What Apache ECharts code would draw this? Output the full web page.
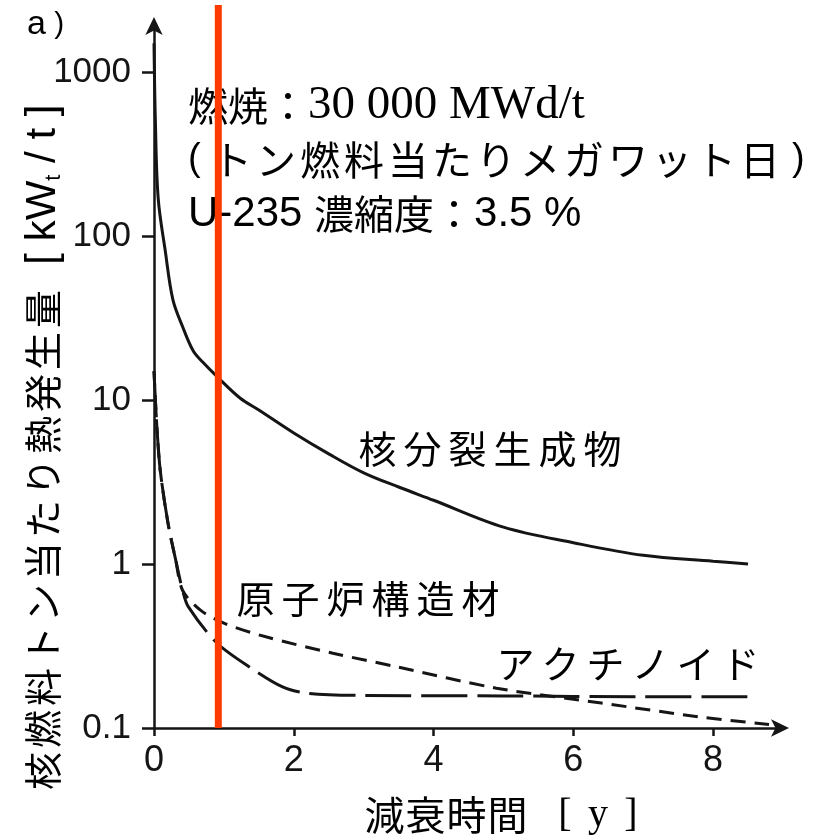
<!DOCTYPE html>
<html>
<head>
<meta charset="utf-8">
<script src="https://cdn.jsdelivr.net/npm/echarts@6/dist/echarts.min.js"></script>
<style>
html,body{margin:0;padding:0;background:#fff;}
#c{width:839px;height:838px;}
</style>
</head>
<body>
<div id="c"></div>
<script>
// ---- data ----
const fissionX = [0, 0.02, 0.06, 0.16, 0.27, 0.41, 0.56, 0.7, 0.91, 1.23, 1.5, 2.0, 2.5, 3.0, 3.5, 4.0, 5.0, 6.0, 7.0, 8.0, 8.5];
const fissionY = [1500, 500, 170, 82, 41, 28, 20, 17, 13.8, 10.3, 8.7, 6.3, 4.7, 3.6, 2.95, 2.45, 1.68, 1.35, 1.13, 1.04, 1.0];

const structX = [0, 0.04, 0.09, 0.2, 0.31, 0.41, 0.66, 1.0, 1.6, 2.56, 3.5, 4.9, 6.4, 7.8, 8.8];
const structY = [15, 7, 3.7, 1.78, 1.06, 0.69, 0.525, 0.436, 0.36, 0.286, 0.235, 0.175, 0.142, 0.117, 0.105];

const actX = [0, 0.04, 0.09, 0.2, 0.31, 0.41, 0.49, 0.9, 1.37, 1.84, 2.19, 3.0, 5.0, 7.0, 8.6];
const actY = [15, 7, 3.7, 1.78, 1.06, 0.69, 0.55, 0.33, 0.235, 0.178, 0.163, 0.158, 0.157, 0.155, 0.155];

const xTicks = [0, 2, 4, 6, 8];
const yTicks = [0.1, 1, 10, 100, 1000];
const yTickLabels = ['0.1', '1', '10', '100', '1000'];
const markerX = 0.92;   // red vertical marker

const seriesNames = ['核分裂生成物', '原子炉構造材', 'アクチノイド'];

function zip(xs, ys){ return xs.map((x, i) => [x, ys[i]]); }

const CJK = '"Noto Sans CJK JP", "Noto Sans CJK SC", sans-serif';
const SANS = '"Liberation Sans", Arial, sans-serif';
const SERIF = '"Liberation Serif", "DejaVu Serif", serif';
const INK = '#151515';

function spaced(str, key){
  return str.split('').map(c => '{' + key + '|' + c + '}').join('');
}

const chart = echarts.init(document.getElementById('c'), null, {renderer: 'canvas'});

const option = {
  animation: false,
  backgroundColor: '#ffffff',
  grid: {left: 154, right: 56, top: 23, bottom: 110, containLabel: false},
  xAxis: {
    type: 'value', min: 0, max: 9,
    axisLine: {show: true, onZero: false, lineStyle: {color: INK, width: 2.5},
      symbol: ['none', 'arrow'], symbolSize: [13, 18], symbolOffset: [0, 6]},
    axisTick: {show: true, length: 8, lineStyle: {color: INK, width: 2.5}, customValues: xTicks},
    axisLabel: {show: true, customValues: xTicks, margin: 15, fontSize: 36, fontFamily: SANS, color: INK},
    splitLine: {show: false}
  },
  yAxis: {
    type: 'log', logBase: 10, min: 0.1, max: Math.pow(10, 3.3),
    axisLine: {show: true, lineStyle: {color: INK, width: 2.5},
      symbol: ['none', 'arrow'], symbolSize: [13, 18], symbolOffset: [0, 6]},
    axisTick: {show: true, length: 12, lineStyle: {color: INK, width: 2.5}, customValues: yTicks},
    axisLabel: {show: true, customValues: yTicks, margin: 23, fontSize: 35, fontFamily: SANS, color: INK,
      formatter: v => { const i = yTicks.findIndex(t => Math.abs(t - v) / t < 1e-6); return i >= 0 ? yTickLabels[i] : ''; }},
    splitLine: {show: false}
  },
  series: [
    {name: seriesNames[0], type: 'line', data: zip(fissionX, fissionY), smooth: 0.35, symbol: 'none',
      lineStyle: {color: INK, width: 3}},
    {name: seriesNames[1], type: 'line', data: zip(structX, structY), smooth: 0.3, symbol: 'none',
      lineStyle: {color: INK, width: 3, type: [15, 9]}},
    {name: seriesNames[2], type: 'line', data: zip(actX, actY), smooth: 0.3, symbol: 'none',
      lineStyle: {color: INK, width: 3, type: [46, 10]}}
  ]
};
chart.setOption(option);

const mx = chart.convertToPixel({xAxisIndex: 0}, markerX);
const yBottom = chart.convertToPixel({yAxisIndex: 0}, 0.1);

const cjkChar = {fontFamily: CJK, fontSize: 38, width: 45, align: 'center', color: INK};

chart.setOption({
  graphic: [
    // red marker line
    {type: 'line', z: 100, shape: {x1: mx, y1: 5, x2: mx, y2: yBottom},
      style: {stroke: '#ff3a00', lineWidth: 7}},
    // panel tag
    {type: 'text', x: 27, y: 8, style: {
      text: '{a|a}{p| )}', rich: {
        a: {fontFamily: SANS, fontSize: 34, color: INK},
        p: {fontFamily: SANS, fontSize: 30, color: INK}
      }}},
    // conditions text
    {type: 'text', x: 188, y: 79, style: {
      text: '{c|燃焼：}{s|30 000 MWd/t}\n' +
            '{p|(}' + spaced('トン燃料当たりメガワット日', 'w') + '{p| )}\n' +
            '{u|U-235 }{c|濃縮度：}{u|3.5 %}',
      rich: {
        c: {fontFamily: CJK, fontSize: 40, lineHeight: 54, color: INK},
        w: {fontFamily: CJK, fontSize: 40, lineHeight: 54, width: 44, align: 'center', color: INK},
        p: {fontFamily: SANS, fontSize: 38, lineHeight: 54, width: 22, color: INK},
        s: {fontFamily: SERIF, fontSize: 47, lineHeight: 54, color: INK},
        u: {fontFamily: SANS, fontSize: 42, lineHeight: 54, color: INK}
      }}},
    // curve labels
    {type: 'text', x: 355, y: 430, style: {text: spaced(seriesNames[0], 'k'), rich: {k: cjkChar}}},
    {type: 'text', x: 233, y: 580, style: {text: spaced(seriesNames[1], 'k'), rich: {k: cjkChar}}},
    {type: 'text', x: 493, y: 645, style: {text: spaced(seriesNames[2], 'k'), rich: {k: cjkChar}}},
    // x axis title
    {type: 'text', x: 364, y: 815, style: {
      text: spaced('減衰時間', 'k') + '{g|}{b|[}{y|y}{b|]}', align: 'left', verticalAlign: 'middle',
      rich: {k: {fontFamily: CJK, fontSize: 40, width: 41, align: 'center', color: INK},
             g: {width: 28},
             b: {fontFamily: SERIF, fontSize: 40, width: 18, align: 'left', color: INK},
             y: {fontFamily: SERIF, fontSize: 40, width: 48, align: 'center', color: INK}}}},
    // y axis title (rotated, reads bottom to top, starts at the bottom)
    {type: 'text', x: 43, y: 792, rotation: Math.PI / 2, style: {
      text: spaced('核燃料トン当たり熱発生量', 'k') + '{l|  [ kW}{sub|t}{l| / t ]}',
      align: 'left', verticalAlign: 'middle',
      rich: {
        k: {fontFamily: CJK, fontSize: 38, width: 42, align: 'center', color: INK, lineHeight: 46},
        l: {fontFamily: SANS, fontSize: 42, color: INK, lineHeight: 46},
        sub: {fontFamily: SANS, fontSize: 22, color: INK, lineHeight: 46, padding: [22, 0, 0, 0]}
      }}}
  ]
});
</script>
</body>
</html>
